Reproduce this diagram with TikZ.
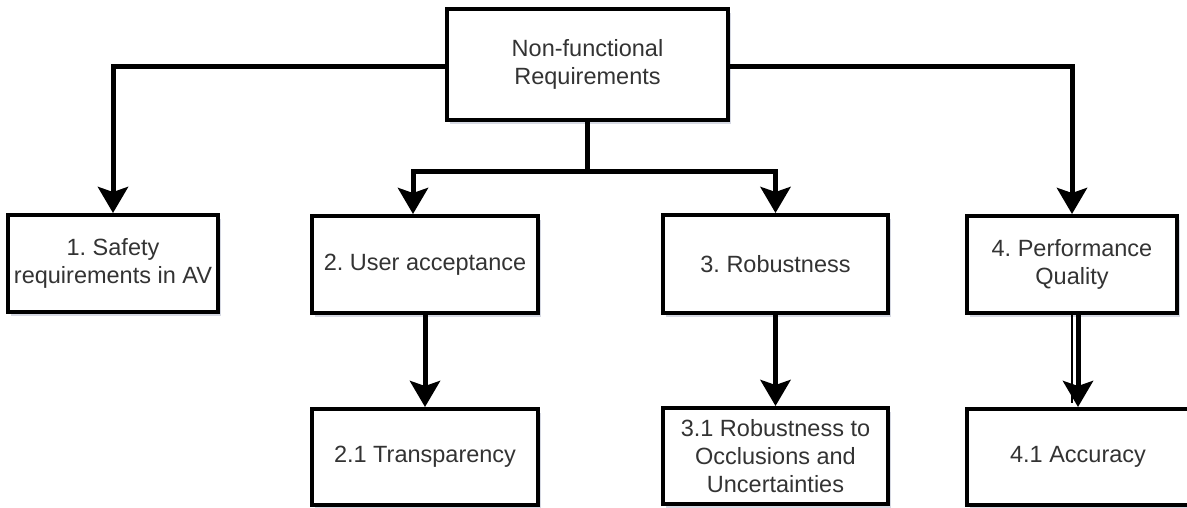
\documentclass[tikz,border=0pt]{standalone}
\usepackage{fontspec}
\setmainfont{Liberation Sans}
\usetikzlibrary{arrows.meta,shadows,calc}
\definecolor{txt}{HTML}{333333}
\definecolor{shade}{HTML}{8A93B0}
\frenchspacing
\begin{document}
\begin{tikzpicture}[x=1pt,y=-1pt,
  box/.style={draw=black,line width=4pt,fill=white,rectangle,align=center,
    text=txt,font=\fontsize{23.5}{28}\selectfont,inner sep=0pt,
    drop shadow={shadow xshift=3pt,shadow yshift=-4pt,opacity=0.35,fill=shade}},
  link/.style={line width=5pt,black},
  arrow/.style={link,-{Stealth[length=26pt,width=30pt,inset=5pt]}},
  thinlink/.style={line width=1.4pt,black}]
\useasboundingbox (0,0) rectangle (1187,507);
\node[box,minimum width=281pt,minimum height=111pt] (root) at (587.5,64.5) {Non-functional\\Requirements};
\node[box,minimum width=210pt,minimum height=97pt] (b1) at (113,263.5) {1. Safety\\requirements in AV};
\node[box,minimum width=226pt,minimum height=97pt] (b2) at (425,264.5) {2. User acceptance};
\node[box,minimum width=225pt,minimum height=98pt] (b3) at (775.5,264) {3. Robustness};
\node[box,minimum width=210pt,minimum height=97pt] (b4) at (1072,264.5) {4. Performance\\Quality};
\node[box,minimum width=226pt,minimum height=96pt] (b21) at (425,457) {2.1 Transparency};
\node[box,minimum width=225pt,minimum height=96pt] (b31) at (775.5,456) {3.1 Robustness to\\Occlusions and\\Uncertainties};
\node[box,minimum width=222pt,minimum height=96pt] (b41) at (1078,457) {4.1 Accuracy};
% branches from the root
\draw[arrow] ([yshift=-2pt]root.west) -| (b1.north);
\draw[arrow] ([yshift=-2pt]root.east) -| (b4.north);
\draw[link] (root.south) -- ++(0,49) coordinate (j);
\draw[arrow] (j) -| ([xshift=-12pt]b2.north);
\draw[arrow] (j) -| (b3.north);
% second level
\draw[arrow] (b2.south) -- (b21.north);
\draw[arrow] (b3.south) -- (b31.north);
\draw[thinlink] (b4.south) -- ([xshift=-6pt,yshift=4pt]b41.north);
\draw[arrow] (b4.south -| b41.north) -- (b41.north);
\end{tikzpicture}
\end{document}
